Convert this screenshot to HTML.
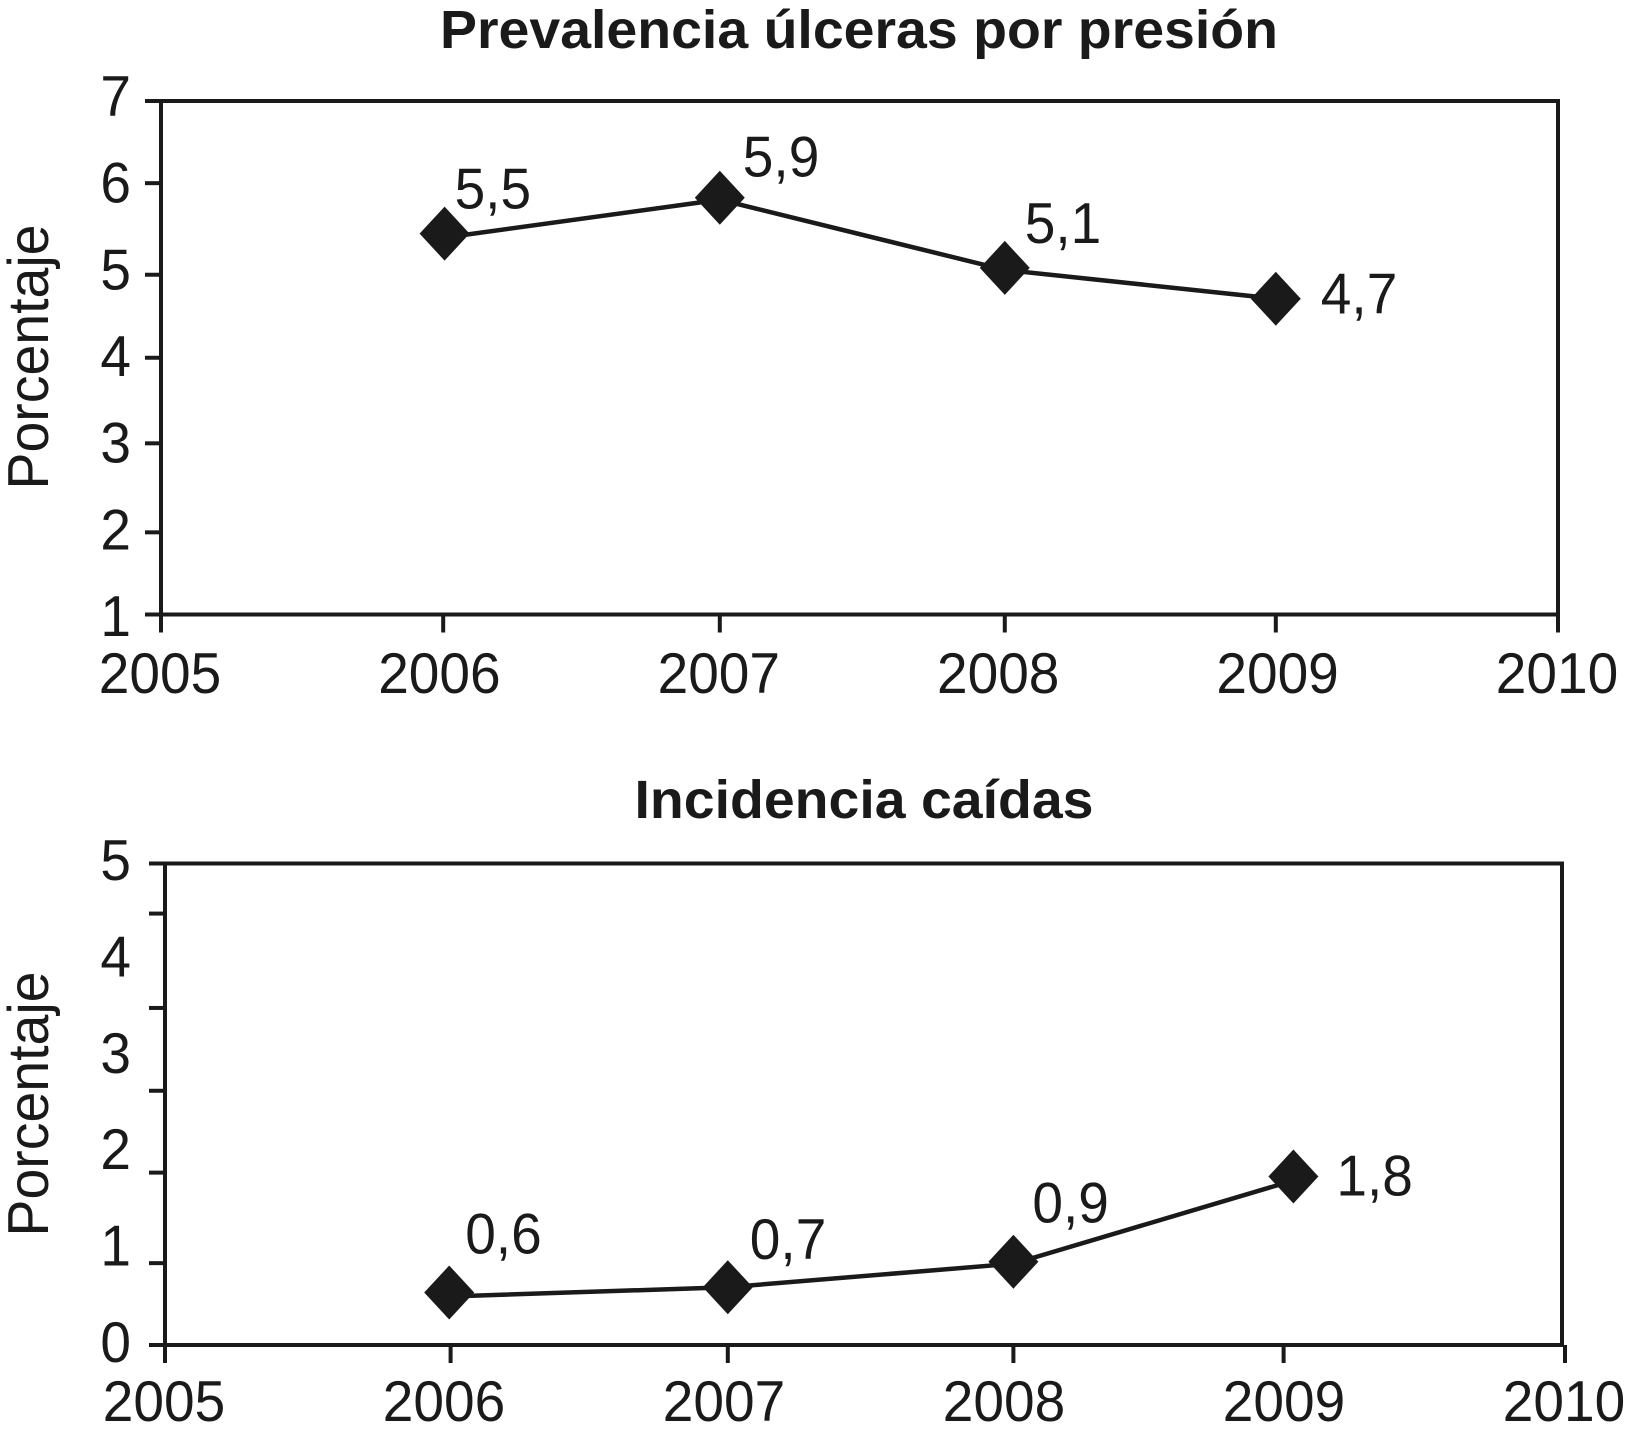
<!DOCTYPE html>
<html lang="es">
<head>
<meta charset="utf-8">
<title>Prevalencia úlceras por presión e incidencia caídas</title>
<style>
html,body{margin:0;padding:0;background:#fff;width:1627px;height:1440px;overflow:hidden}
svg{display:block}
text{font-family:"Liberation Sans",sans-serif;fill:#1a1a1a}
</style>
</head>
<body>
<svg id="figure" xmlns="http://www.w3.org/2000/svg" width="1627" height="1440" viewBox="0 0 1627 1440">
  <rect x="0" y="0" width="1627" height="1440" fill="#ffffff"/>
  <g id="chart-top"></g>
  <g id="chart-bottom"></g>
</svg>
<script>
// Top chart data
const ulcerasYears = [2006.015, 2007, 2008.02, 2008.99];
const ulcerasValues = [5.45, 5.87, 5.05, 4.69];
const ulcerasPrinted = ["5,5", "5,9", "5,1", "4,7"];
const ulcerasYTicks = [7, 6.04, 4.97, 4, 3, 1.96, 1];
const ulcerasYLabels = ["7", "6", "5", "4", "3", "2", "1"];
const ulcerasXTicks = [2005, 2006.01, 2007, 2008.02, 2008.99, 2010];
const ulcerasXLabels = [2005, 2006, 2007, 2008, 2009, 2010];

// Bottom chart data
const caidasYears = [2006.015, 2007.01, 2008.03, 2009.03];
const caidasValues = [0.545, 0.6, 0.865, 1.75];
const caidasPrinted = ["0,6", "0,7", "0,9", "1,8"];
const caidasYTicks = [5, 4.48, 3.5, 2.64, 1.79, 0.85, 0];
const caidasYLabels = ["5", "4", "3", "2", "1", "0"];
const caidasXTicks = [2005, 2006.02, 2007.01, 2008.03, 2008.995, 2010];
const caidasXLabels = [2005, 2006, 2007, 2008, 2009, 2010];

const NS = "http://www.w3.org/2000/svg";
const INK = "#1a1a1a";
const FONT = 57.5;
const DIGIT = 30.6;
const COMMA = 15.3;

function make(parent, tag, attrs, content) {
  const el = document.createElementNS(NS, tag);
  for (const k in attrs) el.setAttribute(k, attrs[k]);
  if (content !== undefined) el.textContent = content;
  parent.appendChild(el);
  return el;
}

function linear(d0, d1, r0, r1) {
  return function (v) { return r0 + (v - d0) * (r1 - r0) / (d1 - d0); };
}

function drawChart(root, c) {
  const x = linear(2005, 2010, c.left, c.tickRight);
  const y = linear(c.yMin, c.yMax, c.bottom, c.top);

  // Title
  const title = make(root, "text", {
    x: c.titleX, y: c.titleY, "text-anchor": "middle", "font-size": c.titleSize,
    "font-weight": "bold", textLength: c.titleWidth, lengthAdjust: "spacingAndGlyphs"
  }, c.title);
  
  

  // Y axis title
  const yTitle = make(root, "text", {
    x: 0, y: 0, "text-anchor": "middle", "font-size": FONT,
    textLength: 265, lengthAdjust: "spacingAndGlyphs",
    transform: "translate(" + c.yTitleX + "," + c.yTitleY + ") rotate(-90)"
  }, "Porcentaje");
  
  

  // Frame
  const frame = make(root, "path", {
    d: "M" + c.left + " " + c.bottom + "V" + c.top + "H" + c.right + "V" + c.bottom + "H" + c.left,
    fill: "none", stroke: INK, "stroke-width": 4
  });
  
  

  // Y ticks
  c.yTicks.forEach(function (v) {
    const t = make(root, "line", {
      x1: c.left - 16, x2: c.left, y1: y(v), y2: y(v), stroke: INK, "stroke-width": 4
    });
    
    
  });

  // Y labels: evenly spaced down the axis
  c.yLabels.forEach(function (label, i) {
    const n = c.yLabels.length - 1;
    const t = make(root, "text", {
      x: 131, y: c.yLabelTop + (c.yLabelBottom - c.yLabelTop) * i / n,
      "text-anchor": "end", "font-size": FONT,
      textLength: DIGIT, lengthAdjust: "spacingAndGlyphs"
    }, label);
    
    
  });

  // X ticks
  c.xTicks.forEach(function (v) {
    const t = make(root, "line", {
      x1: x(v), x2: x(v), y1: c.bottom, y2: c.bottom + 18, stroke: INK, "stroke-width": 4
    });
    
    
  });

  // X labels
  c.xLabels.forEach(function (year) {
    const t = make(root, "text", {
      x: x(year) + c.xLabelShift, y: c.xLabelY, "text-anchor": "middle", "font-size": FONT,
      textLength: DIGIT * 4, lengthAdjust: "spacingAndGlyphs"
    }, String(year));
    
    
  });

  // Series line (sits slightly off the marker centres in the source figure)
  const points = c.years.map(function (yr, i) { return x(yr) + "," + (y(c.values[i]) + c.lineDy[i]); }).join(" ");
  const line = make(root, "polyline", {
    points: points, fill: "none", stroke: INK, "stroke-width": 4.5
  });
  
  

  // Markers and printed values
  c.years.forEach(function (yr, i) {
    const px = x(yr), py = y(c.values[i]);
    const m = make(root, "polygon", {
      points: (px - 25) + "," + py + " " + px + "," + (py - 27) + " " + (px + 25) + "," + py + " " + px + "," + (py + 27),
      fill: INK
    });
    
    
    const lab = make(root, "text", {
      x: px + c.labelDx[i], y: py + c.labelDy[i], "font-size": FONT,
      textLength: DIGIT * 2 + COMMA, lengthAdjust: "spacingAndGlyphs"
    }, c.printed[i]);
    
    
  });
}

drawChart(document.getElementById("chart-top"), {
  title: "Prevalencia úlceras por presión", titleX: 859, titleY: 48, titleSize: 54, titleWidth: 838,
  left: 161, right: 1558, tickRight: 1558, top: 101, bottom: 614.5,
  yMin: 1, yMax: 7,
  yTitleX: 48, yTitleY: 357,
  yLabelTop: 116, yLabelBottom: 636, xLabelY: 693, xLabelShift: -1,
  years: ulcerasYears, values: ulcerasValues, printed: ulcerasPrinted,
  yTicks: ulcerasYTicks, yLabels: ulcerasYLabels, xTicks: ulcerasXTicks, xLabels: ulcerasXLabels,
  labelDx: [10, 23, 20, 45], labelDy: [-25, -21, -25, 15],
  lineDy: [4, 2, 2, 0]
});

drawChart(document.getElementById("chart-bottom"), {
  title: "Incidencia caídas", titleX: 864, titleY: 818, titleSize: 54, titleWidth: 459,
  left: 165, right: 1562, tickRight: 1565, top: 863.5, bottom: 1345,
  yMin: 0, yMax: 5,
  yTitleX: 48, yTitleY: 1104,
  yLabelTop: 880, yLabelBottom: 1362, xLabelY: 1421, xLabelShift: -1,
  years: caidasYears, values: caidasValues, printed: caidasPrinted,
  yTicks: caidasYTicks, yLabels: caidasYLabels, xTicks: caidasXTicks, xLabels: caidasXLabels,
  labelDx: [16, 22, 19, 43], labelDy: [-39, -28, -39, 19],
  lineDy: [4, 0, 2, 4]
});
</script>
</body>
</html>
